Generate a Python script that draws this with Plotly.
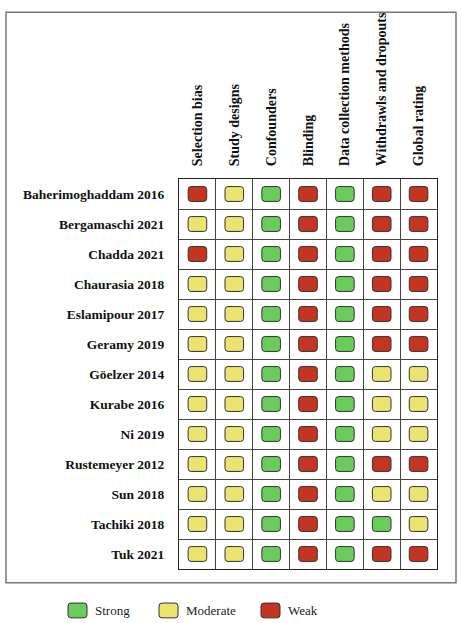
import plotly.graph_objects as go

# quality assessment ratings
domains = ["Selection bias", "Study designs", "Confounders", "Blinding",
           "Data collection methods", "Withdrawls and dropouts", "Global rating"]
studies = ["Baherimoghaddam 2016", "Bergamaschi 2021", "Chadda 2021", "Chaurasia 2018",
           "Eslamipour 2017", "Geramy 2019", "Göelzer 2014", "Kurabe 2016", "Ni 2019",
           "Rustemeyer 2012", "Sun 2018", "Tachiki 2018", "Tuk 2021"]
ratings = [
    ["W", "M", "S", "W", "S", "W", "W"],
    ["M", "M", "S", "W", "S", "W", "W"],
    ["W", "M", "S", "W", "S", "W", "W"],
    ["M", "M", "S", "W", "S", "W", "W"],
    ["M", "M", "S", "W", "S", "W", "W"],
    ["M", "M", "S", "W", "S", "W", "W"],
    ["M", "M", "S", "W", "S", "M", "M"],
    ["M", "M", "S", "W", "S", "M", "M"],
    ["M", "M", "S", "W", "S", "M", "M"],
    ["M", "M", "S", "W", "S", "W", "W"],
    ["M", "M", "S", "W", "S", "M", "M"],
    ["M", "M", "S", "W", "S", "S", "M"],
    ["M", "M", "S", "W", "S", "W", "W"],
]
legend_keys = ["S", "M", "W"]
legend_labels = ["Strong", "Moderate", "Weak"]
colors = {"S": "#6acd5b", "M": "#ece46e", "W": "#c43420"}

W, H = 461, 623
L, R, T, B = 179, 24, 174, 54
pw, ph = W - L - R, H - T - B


def px(x):
    return (x - L) / pw


def py_(y):
    return (H - B - y) / ph


def rrect(x0, y0, x1, y1, rx, ry):
    # rounded rectangle path, y0 < y1
    return (f"M {x0+rx},{y0} L {x1-rx},{y0} Q {x1},{y0} {x1},{y0+ry} "
            f"L {x1},{y1-ry} Q {x1},{y1} {x1-rx},{y1} L {x0+rx},{y1} "
            f"Q {x0},{y1} {x0},{y1-ry} L {x0},{y0+ry} Q {x0},{y0} {x0+rx},{y0} Z")


shapes = []
hw, hh = 0.252, 0.247
for i, row in enumerate(ratings):
    for j, r in enumerate(row):
        shapes.append(dict(type="path", xref="x", yref="y",
                           path=rrect(j - hw, i - hh, j + hw, i + hh, 0.08, 0.1),
                           fillcolor=colors[r], line=dict(color="#333333", width=1)))

# outer frame
shapes.append(dict(type="rect", xref="paper", yref="paper",
                   x0=px(6), x1=px(456), y0=py_(583), y1=py_(5),
                   line=dict(color="#777777", width=1.5), layer="below"))

# legend
annotations = []
leg_x = [68, 159, 261]
for k, lab, lx in zip(legend_keys, legend_labels, leg_x):
    shapes.append(dict(type="path", xref="paper", yref="paper",
                       path=rrect(px(lx), py_(618.5), px(lx + 19), py_(603.5),
                                  3 / pw, 3 / ph),
                       fillcolor=colors[k], line=dict(color="#333333", width=1)))
    annotations.append(dict(xref="paper", yref="paper", x=px(lx + 25), y=py_(611),
                            text=lab, showarrow=False, xanchor="left", yanchor="middle",
                            font=dict(family="Liberation Serif", size=13, color="#222")))

fig = go.Figure()
fig.add_trace(go.Scatter(x=[0], y=[0], mode="markers", marker=dict(opacity=0),
                         hoverinfo="skip", showlegend=False))

fig.update_layout(
    width=W, height=H,
    margin=dict(l=L, r=R, t=T, b=B),
    paper_bgcolor="white", plot_bgcolor="white",
    showlegend=False,
    shapes=shapes, annotations=annotations,
    xaxis=dict(range=[-0.5, len(domains) - 0.5], side="top",
               tickvals=list(range(len(domains))), ticktext=domains,
               tickangle=-90, showgrid=False, zeroline=False, ticks="",
               ticklabelstandoff=9,
               tickfont=dict(family="Liberation Serif", size=14, color="#111", weight="bold"),
               showline=True, mirror=True, linecolor="#222", linewidth=1,
               minor=dict(tickvals=[v - 0.5 for v in range(len(domains) + 1)],
                          showgrid=True, gridcolor="#444", gridwidth=1, ticks="")),
    yaxis=dict(range=[len(studies) - 0.5, -0.5],
               tickvals=list(range(len(studies))), ticktext=studies,
               showgrid=False, zeroline=False, ticks="",
               ticklabelstandoff=11,
               tickfont=dict(family="Liberation Serif", size=13.5, color="#111", weight="bold"),
               showline=True, mirror=True, linecolor="#222", linewidth=1,
               minor=dict(tickvals=[v - 0.5 for v in range(len(studies) + 1)],
                          showgrid=True, gridcolor="#444", gridwidth=1, ticks="")),
)

fig.write_html("out.html", config={"displayModeBar": False},
               post_script="document.body.style.margin='0';")
